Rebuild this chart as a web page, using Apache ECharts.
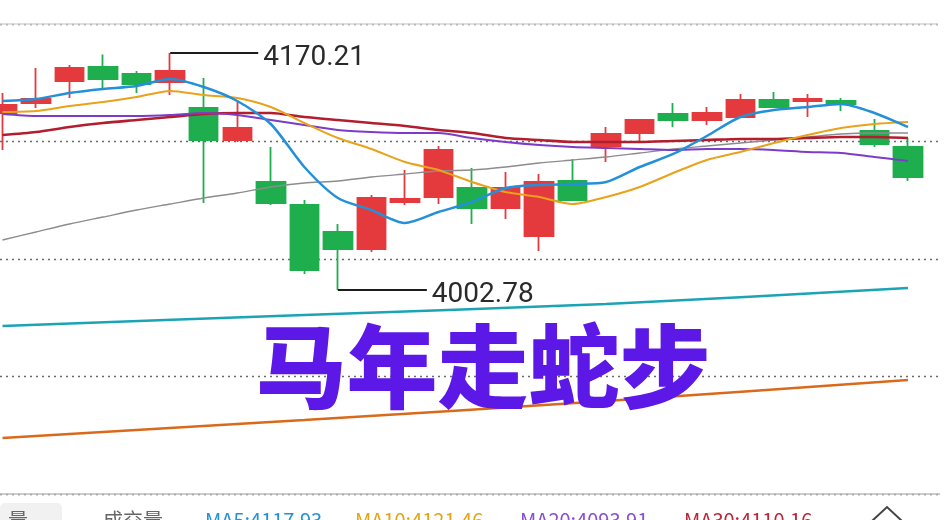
<!DOCTYPE html>
<html><head><meta charset="utf-8">
<script src="https://cdn.jsdelivr.net/npm/echarts@6/dist/echarts.min.js"></script>
<style>html,body{margin:0;padding:0;background:#fff;overflow:hidden}#c{width:950px;height:520px}</style>
</head><body><div id="c"></div>
<script>
const categories = ['K01','K02','K03','K04','K05','K06','K07','K08','K09','K10','K11','K12','K13','K14',
  'K15','K16','K17','K18','K19','K20','K21','K22','K23','K24','K25','K26','K27','K28'];
const openV  = [4127.82,4134.88,4150.43,4160.32,4155.37,4149.72,4131.35,4108.75,4079.07,4062.83,4043.75,4031.74,4064.95,4068.48,
  4074.84,4060.71,4040.93,4079.78,4104.51,4113.69,4127.11,4122.87,4124.99,4137.00,4136.30,4136.30,4115.10,4103.80];
const closeV = [4133.47,4137.71,4159.61,4151.84,4148.31,4157.49,4108.75,4117.22,4064.24,4016.91,4031.74,4067.77,4067.06,4101.68,
  4060.71,4074.84,4079.07,4066.36,4112.98,4122.87,4122.87,4127.82,4137.00,4132.06,4137.71,4134.18,4105.92,4082.61];
const lowV   = [4101.68,4131.35,4138.42,4144.07,4141.95,4140.54,4064.24,4107.33,4062.83,4014.08,4002.78,4029.62,4062.83,4063.53,
  4049.40,4052.94,4030.33,4065.65,4093.20,4107.33,4117.93,4119.34,4124.29,4131.70,4124.99,4129.23,4103.80,4079.78];
const highV  = [4141.95,4159.61,4161.73,4169.15,4157.49,4170.21,4152.55,4135.59,4103.80,4066.36,4049.40,4069.89,4087.55,4104.51,
  4088.96,4086.14,4084.73,4095.32,4117.93,4123.58,4134.88,4132.06,4141.24,4142.66,4141.24,4138.42,4123.58,4110.16];
const ma5  = [4136.30,4137.71,4141.95,4144.78,4146.89,4151.84,4146.19,4136.30,4120.05,4089.67,4067.77,4059.29,4050.11,4057.88,
  4064.95,4074.84,4076.95,4077.66,4079.07,4089.67,4098.86,4111.57,4124.99,4129.94,4132.06,4134.18,4127.82,4117.93];
const ma10 = [4128.53,4129.23,4132.77,4135.59,4139.12,4143.36,4140.54,4138.42,4132.06,4120.76,4110.16,4102.39,4093.20,4087.55,
  4079.07,4072.01,4068.48,4063.53,4068.48,4075.54,4085.43,4094.62,4100.27,4106.63,4112.28,4117.22,4120.05,4121.46];
const ma20 = [4127.11,4125.70,4125.70,4125.70,4125.70,4126.41,4127.82,4126.41,4122.87,4119.34,4115.81,4114.40,4113.69,4113.69,
  4110.16,4107.33,4105.21,4103.80,4103.09,4102.39,4101.68,4102.39,4102.39,4101.68,4100.27,4099.56,4096.74,4093.91];
const ma30 = [4112.28,4114.40,4117.93,4120.76,4122.87,4124.99,4127.11,4127.82,4127.82,4124.99,4122.87,4120.76,4118.64,4115.81,
  4113.69,4110.16,4108.75,4107.33,4107.33,4107.33,4108.04,4108.75,4109.45,4109.45,4110.16,4110.86,4110.86,4110.16];
const ma60 = [4038.10,4043.75,4049.40,4054.35,4059.29,4063.53,4067.77,4071.30,4075.54,4078.37,4079.78,4082.61,4084.73,4086.85,
  4087.55,4089.67,4092.50,4094.62,4096.74,4099.56,4102.39,4104.51,4106.63,4108.75,4110.86,4112.98,4113.69,4113.69];
const ma120 = [3977.34,'-','-','-','-','-','-','-','-',3985.12,'-','-','-','-','-','-','-','-',3992.89,'-','-','-','-','-','-','-','-',4004.19];
const ma250 = [3898.22,'-','-','-','-','-','-','-','-',3910.94,'-','-','-','-','-','-','-','-',3924.36,'-','-','-','-','-','-','-','-',3939.20];
const priceMin = 3858.66, priceMax = 4190.69;
const title = '马年走蛇步';
const legendItems = [
  {t:'量', c:'#666', x:8},
  {t:'成交量', c:'#666', x:103},
  {t:'MA5:4117.93', c:'#2390d8', x:205},
  {t:'MA10:4121.46', c:'#e2a516', x:355},
  {t:'MA20:4093.91', c:'#8a4fd0', x:520},
  {t:'MA30:4110.16', c:'#b8283a', x:684}
];

const candleData = categories.map((_, i) => [openV[i], closeV[i], lowV[i], highV[i]]);
const chart = echarts.init(document.getElementById('c'), null, {renderer: 'canvas'});

function maSeries(name, data, color, width, z) {
  return {name, type: 'line', data, symbol: 'none', smooth: 0.25, connectNulls: true, clip: false,
    xAxisIndex: 0, yAxisIndex: 0, z: z || 3,
    lineStyle: {color, width}, emphasis: {disabled: true}, silent: true};
}

chart.setOption({
  backgroundColor: '#ffffff',
  animation: false,
  grid: [
    {left: 2.5, right: 42, top: 24, bottom: 26},
    {left: 0, right: 12, top: 24, bottom: 26}
  ],
  xAxis: [
    {type: 'category', data: categories, gridIndex: 0, show: false, boundaryGap: false},
    {type: 'value', gridIndex: 1, show: false, min: 0, max: 1}
  ],
  yAxis: [
    {type: 'value', gridIndex: 0, min: priceMin, max: priceMax, show: false, scale: true},
    {type: 'value', gridIndex: 1, min: 0, max: 4, interval: 1,
      axisLine: {show: false}, axisTick: {show: false}, axisLabel: {show: false},
      splitLine: {show: true, lineStyle: {type: [2, 4], color: '#6a6a6a', width: 1.4}}}
  ],
  series: [
    {type: 'candlestick', data: candleData, xAxisIndex: 0, yAxisIndex: 0, barWidth: 29, z: 2, clip: false,
      itemStyle: {color: '#e53a3d', color0: '#1fae4e', borderColor: '#e53a3d', borderColor0: '#1fae4e', borderWidth: 1.8}},
    maSeries('MA250', ma250, '#d96a1c', 2.5, 2),
    maSeries('MA120', ma120, '#1ba4b6', 2.5, 2),
    maSeries('MA60', ma60, '#8c8c8c', 1.3),
    maSeries('MA30', ma30, '#b21e2e', 2.6),
    maSeries('MA20', ma20, '#7d3cc8', 2),
    maSeries('MA10', ma10, '#e9a21a', 2),
    maSeries('MA5', ma5, '#2390d8', 2.5)
  ]
});

// annotations derived from data via the chart's own scales
let hiIdx = 0, loIdx = 0;
highV.forEach((v, i) => { if (v > highV[hiIdx]) hiIdx = i; });
lowV.forEach((v, i) => { if (v < lowV[loIdx]) loIdx = i; });
const hp = chart.convertToPixel({gridIndex: 0}, [hiIdx, highV[hiIdx]]);
const lp = chart.convertToPixel({gridIndex: 0}, [loIdx, lowV[loIdx]]);
const topY = chart.convertToPixel({yAxisIndex: 1}, 4);
const botY = chart.convertToPixel({yAxisIndex: 1}, 0);

const graphics = [
  {type: 'line', shape: {x1: 0, y1: topY, x2: 938, y2: topY}, style: {stroke: '#d4d4d4', lineWidth: 1.5}, z: 50},
  {type: 'line', shape: {x1: 0, y1: botY, x2: 940, y2: botY}, style: {stroke: '#bdbdbd', lineWidth: 1.5}, z: 50},
  {type: 'line', shape: {x1: hp[0], y1: hp[1], x2: hp[0] + 88, y2: hp[1]}, style: {stroke: '#1c1c1c', lineWidth: 2}, z: 60},
  {type: 'text', x: hp[0] + 93, y: hp[1] + 5, z: 60,
    style: {text: highV[hiIdx].toFixed(2), fill: '#2a2a2a', font: '28px Roboto', align: 'left', verticalAlign: 'middle'}},
  {type: 'line', shape: {x1: lp[0], y1: lp[1], x2: lp[0] + 89, y2: lp[1]}, style: {stroke: '#1c1c1c', lineWidth: 2}, z: 60},
  {type: 'text', x: lp[0] + 94, y: lp[1] + 5, z: 60,
    style: {text: lowV[loIdx].toFixed(2), fill: '#2a2a2a', font: '28px Roboto', align: 'left', verticalAlign: 'middle'}},
  {type: 'text', x: 483, y: 366, z: 100,
    style: {text: title, fill: '#5b18e6', font: '900 91px "Noto Sans CJK SC"', align: 'center', verticalAlign: 'middle'}},
  {type: 'rect', shape: {x: 0, y: 503, width: 62, height: 22, r: 5}, style: {fill: '#f1f1f1'}, z: 40},
  {type: 'polyline', shape: {points: [[872, 521], [887, 507], [902, 521]]}, style: {stroke: '#444', lineWidth: 2, fill: 'none'}, z: 60}
];
legendItems.forEach(it => graphics.push({type: 'text', x: it.x, y: 510, z: 60,
  style: {text: it.t, fill: it.c, font: '20px "Noto Sans CJK SC"', align: 'left', verticalAlign: 'top'}}));
chart.setOption({graphic: graphics});
</script></body></html>
